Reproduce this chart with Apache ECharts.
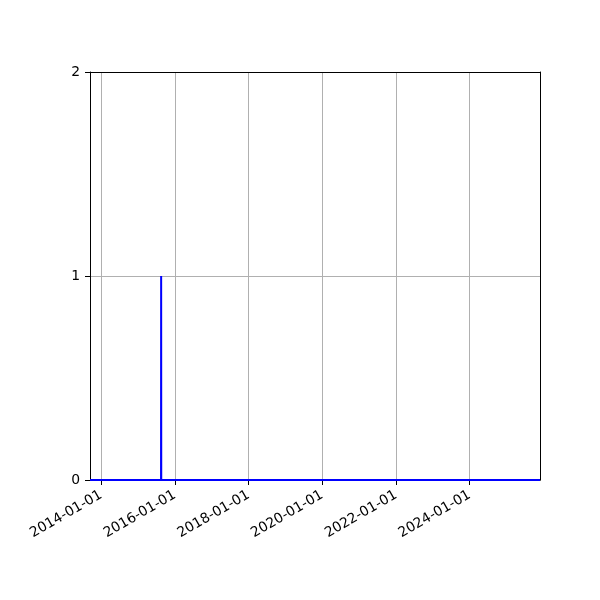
<!DOCTYPE html>
<html>
<head>
<meta charset="utf-8">
<script src="https://cdn.jsdelivr.net/npm/echarts@6/dist/echarts.min.js"></script>
<style>html,body{margin:0;padding:0;background:#fff}#c{width:600px;height:600px}</style>
</head>
<body>
<div id="c"></div>
<script>
var dates = ['2013-09-13', '2015-08-18', '2015-08-19', '2015-08-20', '2025-11-28'];
var values = [0, 0, 1, 0, 0];
var tickDates = ['2014-01-01', '2016-01-01', '2018-01-01', '2020-01-01', '2022-01-01', '2024-01-01'];
var yTicks = [0, 1, 2];

function ts(s) { var p = s.split('-'); return Date.UTC(+p[0], +p[1] - 1, +p[2]); }
function fmt(v) {
  var d = new Date(v);
  var m = d.getUTCMonth() + 1, day = d.getUTCDate();
  return d.getUTCFullYear() + '-' + (m < 10 ? '0' : '') + m + '-' + (day < 10 ? '0' : '') + day;
}
var tickVals = tickDates.map(ts);
var seriesData = dates.map(function (d, i) { return [ts(d), values[i]]; });
var xMin = ts(dates[0]), xMax = ts(dates[dates.length - 1]);

var chart = echarts.init(document.getElementById('c'), null, { renderer: 'canvas' });
chart.setOption({
  animation: false,
  backgroundColor: '#fff',
  textStyle: { fontFamily: 'DejaVu Sans' },
  grid: { left: 90, right: 60, top: 72, bottom: 120 },
  xAxis: [{
    type: 'value',
    min: xMin,
    max: xMax,
    axisLine: { show: true, onZero: false, lineStyle: { color: '#000', width: 1 } },
    axisTick: { show: true, customValues: tickVals, length: 5, lineStyle: { color: '#000', width: 1 } },
    axisLabel: { customValues: tickVals, formatter: function (v) { return fmt(v); }, rotate: 30, color: '#000', fontSize: 13.9, fontFamily: 'DejaVu Sans', margin: 14, hideOverlap: false },
    splitLine: { show: true, lineStyle: { color: '#b0b0b0', width: 1 } }
  }, {
    type: 'value', position: 'top', min: xMin, max: xMax, z: 3,
    axisLine: { show: true, onZero: false, lineStyle: { color: '#000', width: 1 } },
    axisTick: { show: false }, axisLabel: { show: false }, splitLine: { show: false }
  }],
  yAxis: [{
    type: 'value',
    min: yTicks[0],
    max: yTicks[yTicks.length - 1],
    interval: 1,
    axisLine: { show: true, onZero: false, lineStyle: { color: '#000', width: 1 } },
    axisTick: { show: true, length: 5, lineStyle: { color: '#000', width: 1 } },
    axisLabel: { color: '#000', fontSize: 13.9, fontFamily: 'DejaVu Sans', margin: 10 },
    splitLine: { show: true, lineStyle: { color: '#b0b0b0', width: 1 } }
  }, {
    type: 'value', position: 'right', min: 0, max: 2, interval: 1, z: 3,
    axisLine: { show: true, onZero: false, lineStyle: { color: '#000', width: 1 } },
    axisTick: { show: false }, axisLabel: { show: false }, splitLine: { show: false }
  }],
  series: [{
    type: 'line',
    data: seriesData,
    showSymbol: false,
    symbol: 'none',
    lineStyle: { color: '#0000ff', width: 2 },
    z: 5
  }]
});
</script>
</body>
</html>
